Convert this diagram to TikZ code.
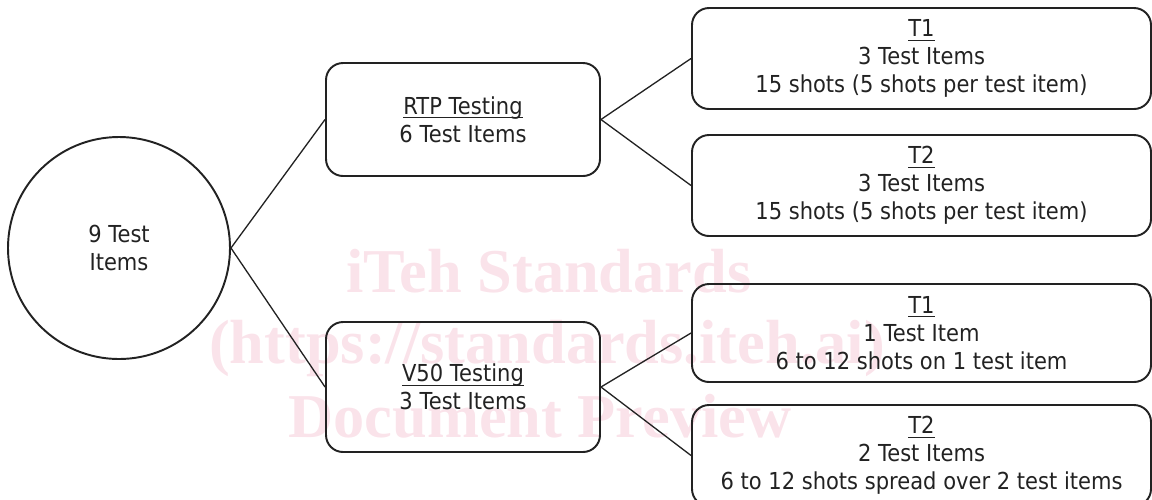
\documentclass[tikz,border=0pt]{standalone}
\usepackage{amsmath}
\usepackage{fontspec}
\setmainfont{DejaVu Sans}[FakeStretch=0.9]
\newfontfamily\markfont{Liberation Serif}
\usepackage{xcolor}
\usetikzlibrary{positioning}

\definecolor{inkgray}{RGB}{34,34,34}
\definecolor{markpink}{RGB}{250,227,234}

% underline sitting just under the baseline
\newcommand{\headline}[1]{\underline{\smash[b]{#1}}}

\begin{document}
\begin{tikzpicture}[
    root/.style={circle, draw=inkgray, line width=1.1pt, minimum size=4.44cm, align=center, text=inkgray},
    group/.style={rectangle, rounded corners=0.34cm, draw=inkgray, line width=1.1pt, minimum width=5.48cm, align=center, text=inkgray},
    trial/.style={rectangle, rounded corners=0.34cm, draw=inkgray, line width=1.1pt, minimum width=9.18cm, minimum height=2.02cm, align=center, text=inkgray},
    link/.style={draw=inkgray, line width=0.75pt},
    stamp/.style={anchor=base, text=markpink, font=\markfont\bfseries\fontsize{35.5}{41}\selectfont},
    every node/.append style={font=\fontsize{13.3}{16}\selectfont},
]
\useasboundingbox (0,0) rectangle (23.04,-9.98);

% Watermark behind everything
\node[stamp] (mk1) at (10.98,-5.84) {iTeh Standards};
\node[stamp] (mk2) at (10.94,-7.26) {(https://standards.iteh.ai)};
\node[stamp] (mk3) at (10.80,-8.74) {Document Preview};

% Root
\node[root] (items) at (2.38,-4.96) {9 Test\\Items};

% Test groups
\node[group, minimum height=2.26cm] (rtp) at (9.26,-2.39) {\headline{RTP Testing}\\6 Test Items};
\node[group, minimum height=2.6cm] (vfifty) at (9.26,-7.74) {\headline{V50 Testing}\\3 Test Items};

% RTP trials
\node[trial] (rtpA) at (18.43,-1.17) {\headline{T1}\\3 Test Items\\15 shots (5 shots per test item)};
\node[trial] (rtpB) at (18.43,-3.71) {\headline{T2}\\3 Test Items\\15 shots (5 shots per test item)};

% V50 trials
\node[trial, minimum height=1.96cm] (vA) at (18.43,-6.66) {\headline{T1}\\1 Test Item\\6 to 12 shots on 1 test item};
\node[trial] (vB) at (18.43,-9.11) {\headline{T2}\\2 Test Items\\6 to 12 shots spread over 2 test items};

% Links
\draw[link] (items.east) -- (rtp.west);
\draw[link] (items.east) -- (vfifty.west);
\draw[link] (rtp.east) -- (rtpA.west);
\draw[link] (rtp.east) -- (rtpB.west);
\draw[link] (vfifty.east) -- (vA.west);
\draw[link] (vfifty.east) -- (vB.west);

\end{tikzpicture}
\end{document}
